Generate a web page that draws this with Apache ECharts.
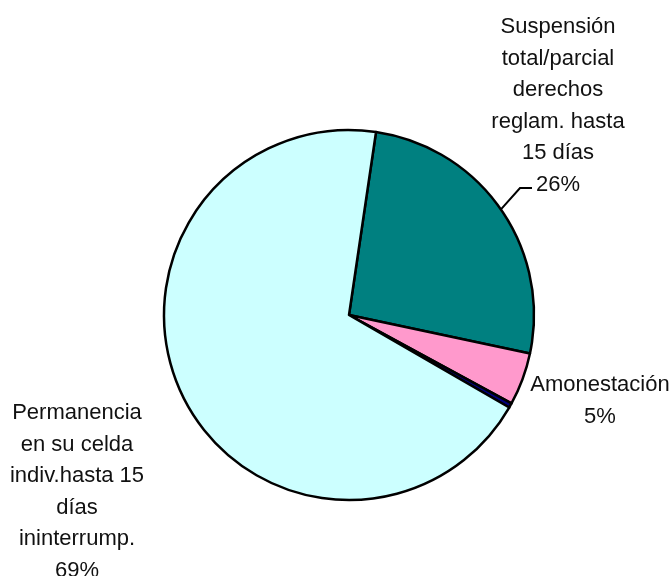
<!DOCTYPE html>
<html>
<head>
<meta charset="utf-8">
<script src="https://cdn.jsdelivr.net/npm/echarts@6/dist/echarts.min.js"></script>
<style>html,body{margin:0;padding:0;background:#fff}#c{width:671px;height:576px}</style>
</head>
<body>
<div id="c"></div>
<script>
const categories = [
  "Suspensión\ntotal/parcial\nderechos\nreglam. hasta\n15 días",
  "Amonestación",
  "Otras",
  "Permanencia\nen su celda\nindiv.hasta 15\ndías\nininterrump."
];
const values = [26.0, 4.6, 0.4, 69.0];
const colors = ["#008080", "#FF99CC", "#000080", "#CCFFFF"];
const showLabel = [true, true, false, true];

const labelPos = [
  {x: 558, y: 106},
  {x: 600, y: 401},
  null,
  {x: 77, y: 492}
];

const chart = echarts.init(document.getElementById('c'));
chart.setOption({
  animation: false,
  series: [{
    type: 'pie',
    center: [349, 315],
    radius: 185,
    startAngle: 81.6,
    clockwise: true,
    percentPrecision: 0,
    avoidLabelOverlap: false,
    itemStyle: {borderColor: '#000', borderWidth: 2.5},
    label: {
      show: true,
      position: 'outside',
      formatter: '{b}\n{d}%',
      fontFamily: '"Liberation Sans", Arial, sans-serif',
      fontSize: 22,
      lineHeight: 31.6,
      color: '#111',
      align: 'center'
    },
    labelLine: {show: false},
    emphasis: {disabled: true},
    labelLayout: function (p) {
      const pos = labelPos[p.dataIndex];
      if (!pos) return {};
      const r = {x: pos.x, y: pos.y, align: 'center', verticalAlign: 'middle'};
      if (p.dataIndex === 0 && p.labelLinePoints) {
        const s = p.labelLinePoints[0];
        r.labelLinePoints = [s, [520, 188], [532, 188]];
      }
      return r;
    },
    data: categories.map((n, i) => ({
      name: n,
      value: values[i],
      itemStyle: {color: colors[i]},
      label: {show: showLabel[i]},
      labelLine: {show: i === 0, length: 10, length2: 10, lineStyle: {color: '#000', width: 2}}
    }))
  }]
});
</script>
</body>
</html>
